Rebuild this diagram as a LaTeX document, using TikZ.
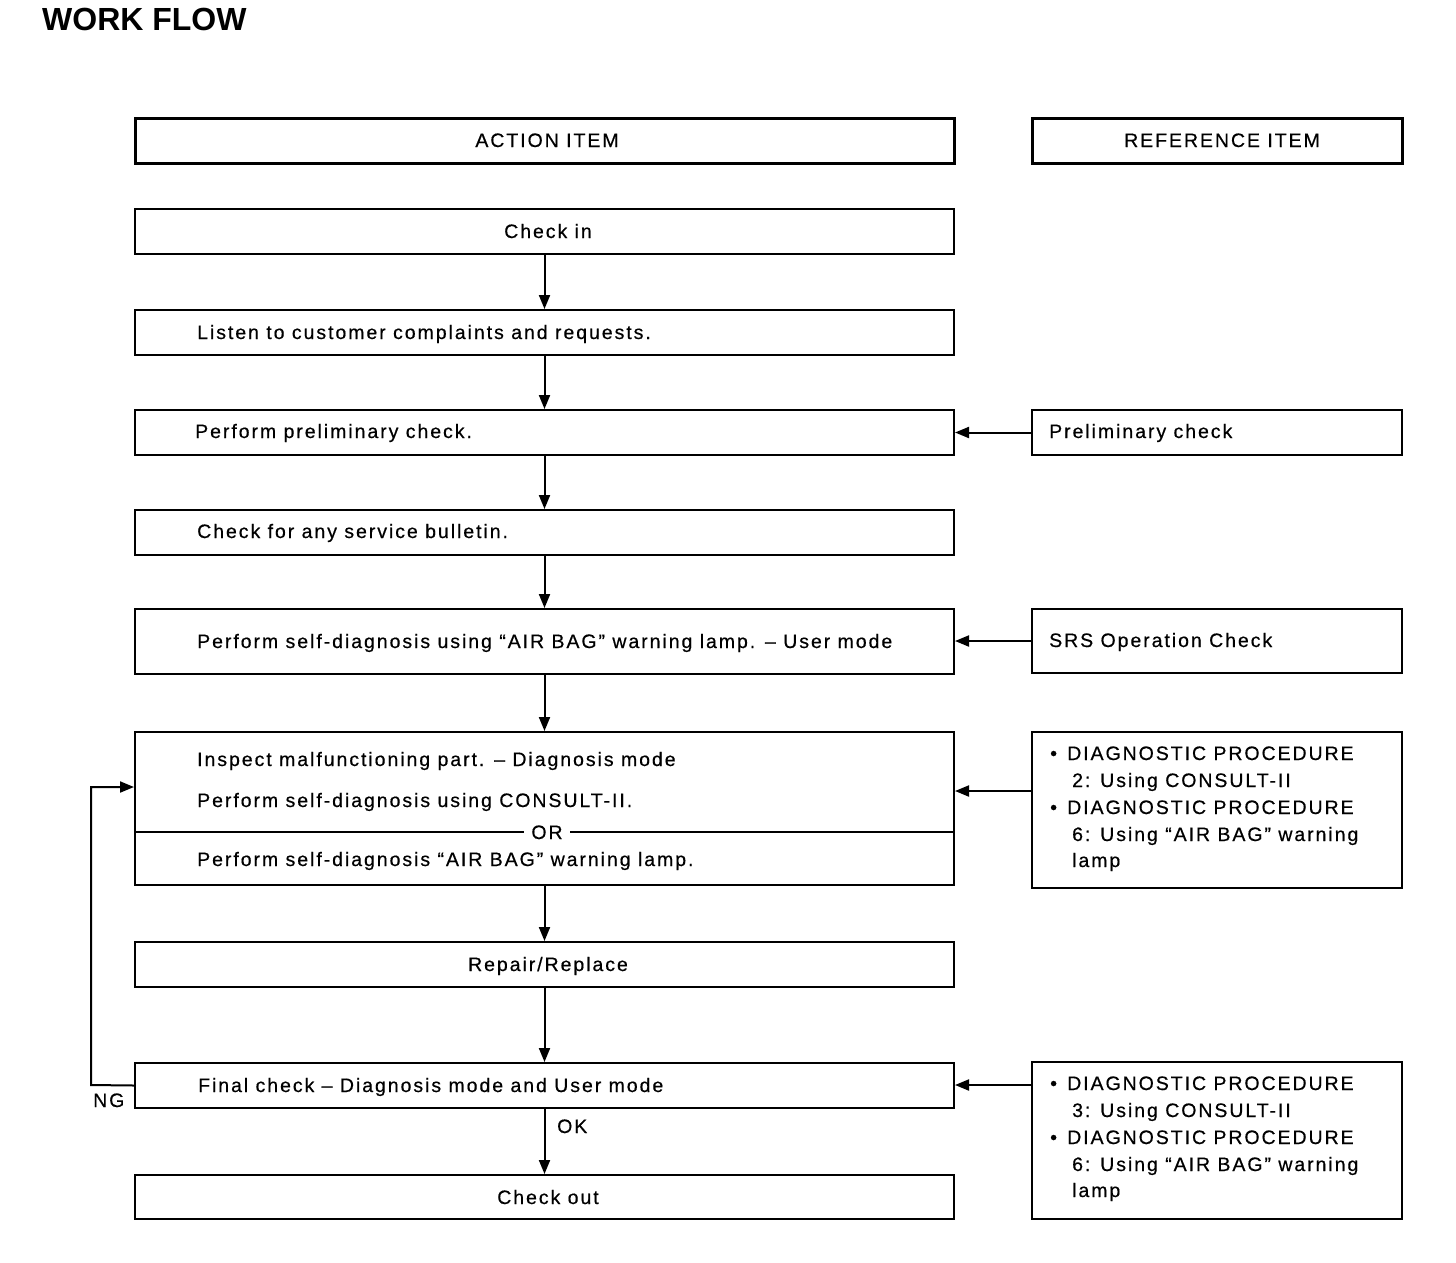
\documentclass[tikz,border=0pt]{standalone}
\usepackage{fontspec}
\setmainfont{Liberation Sans}[LetterSpace=10,FakeBold=0.5]
\newfontfamily\titlefont{Liberation Sans}
\usetikzlibrary{arrows.meta}
\begin{document}
\begin{tikzpicture}[x=1pt,y=-1pt,
  font=\fontsize{19.5}{23}\selectfont,
  box/.style={draw, line width=2pt, anchor=north west, inner sep=0pt, minimum width=819pt, minimum height=45pt},
  hbox/.style={box, line width=3pt},
  rbox/.style={box, minimum width=370pt},
  txt/.style={anchor=base west, inner sep=0pt},
  ctxt/.style={anchor=base, inner sep=0pt},
  arr/.style={line width=2pt, -{Triangle[length=14pt,width=11pt]}},
  ln/.style={line width=2pt}]
\useasboundingbox (0,0) rectangle (1456,1262);
\node[txt, font=\titlefont\fontsize{32}{36}\selectfont\bfseries] (title) at (42,30) {WORK FLOW};
% headers
\node[hbox] (act) at (134,117) {};
\node[hbox, minimum width=370pt] (ref) at (1031,117) {};
\node[ctxt] (actt) at (547,147) {ACTION ITEM};
\node[ctxt] (reft) at (1222,147) {REFERENCE ITEM};
% action boxes
\node[box] (b1) at (134,208) {};
\node[box] (b2) at (134,309) {};
\node[box] (b3) at (134,409) {};
\node[box] (b4) at (134,509) {};
\node[box, minimum height=65pt] (b5) at (134,608) {};
\node[box, minimum height=153pt] (b6) at (134,731) {};
\node[box] (b7) at (134,941) {};
\node[box] (b8) at (134,1062) {};
\node[box, minimum height=44pt] (b9) at (134,1174) {};
% reference boxes
\node[rbox] (r1) at (1031,409) {};
\node[rbox, minimum height=64pt] (r2) at (1031,608) {};
\node[rbox, minimum height=156pt] (r3) at (1031,731) {};
\node[rbox, minimum height=157pt] (r4) at (1031,1061) {};
% texts
\node[ctxt] (t1) at (548,238) {Check in};
\node[txt] (t2) at (197,339) {Listen to customer complaints and requests.};
\node[txt] (t3) at (195,438) {Perform preliminary check.};
\node[txt] (t4) at (197,538) {Check for any service bulletin.};
\node[txt] (t5) at (197,648) {Perform self-diagnosis using “AIR BAG” warning lamp. – User mode};
\node[txt] (t6a) at (197,766) {Inspect malfunctioning part. – Diagnosis mode};
\node[txt] (t6b) at (197,807) {Perform self-diagnosis using CONSULT-II.};
\node[txt] (t6c) at (197,866) {Perform self-diagnosis “AIR BAG” warning lamp.};
\coordinate (y832) at (0,832);
\draw[ln] (b6.west |- y832) -- (b6.east |- y832);
\node[ctxt, fill=white, inner xsep=7pt, inner ysep=3pt] (or) at (547,839) {OR};
\node[ctxt] (t7) at (548,971) {Repair/Replace};
\node[txt] (t8) at (198,1092) {Final check – Diagnosis mode and User mode};
\node[ctxt] (t9) at (548,1204) {Check out};
\node[txt] (ng) at (93,1107) {NG};
\node[txt] (ok) at (557,1133) {OK};
% reference texts
\node[txt] (rt1) at (1049,438) {Preliminary check};
\node[txt] (rt2) at (1049,647) {SRS Operation Check};
\node[txt] (r3b1) at (1050,760) {•};
\node[txt] (r3l1) at (1067,760) {DIAGNOSTIC PROCEDURE};
\node[txt] (r3l2) at (1072,787) {2: Using CONSULT-II};
\node[txt] (r3b2) at (1050,814) {•};
\node[txt] (r3l3) at (1067,814) {DIAGNOSTIC PROCEDURE};
\node[txt] (r3l4) at (1072,841) {6: Using “AIR BAG” warning};
\node[txt] (r3l5) at (1072,867) {lamp};
\node[txt] (r4b1) at (1050,1090) {•};
\node[txt] (r4l1) at (1067,1090) {DIAGNOSTIC PROCEDURE};
\node[txt] (r4l2) at (1072,1117) {3: Using CONSULT-II};
\node[txt] (r4b2) at (1050,1144) {•};
\node[txt] (r4l3) at (1067,1144) {DIAGNOSTIC PROCEDURE};
\node[txt] (r4l4) at (1072,1171) {6: Using “AIR BAG” warning};
\node[txt] (r4l5) at (1072,1197) {lamp};
% vertical arrows
\draw[arr] (b1.south) -- (b2.north);
\draw[arr] (b2.south) -- (b3.north);
\draw[arr] (b3.south) -- (b4.north);
\draw[arr] (b4.south) -- (b5.north);
\draw[arr] (b5.south) -- (b6.north);
\draw[arr] (b6.south) -- (b7.north);
\draw[arr] (b7.south) -- (b8.north);
\draw[arr] (b8.south) -- (b9.north);
% horizontal arrows
\coordinate (y791) at (0,791);
\coordinate (y1085) at (0,1085);
\coordinate (y787) at (0,787);
\draw[arr] (r1.west) -- (b3.east);
\draw[arr] (r2.west) -- (b5.east |- r2.west);
\draw[arr] (r3.west |- y791) -- (b6.east |- y791);
\draw[arr] (r4.west |- y1085) -- (b8.east |- y1085);
% NG loop
\coordinate (ngc) at (91,1085);
\draw[arr] (b8.west) -- (ngc) |- (b6.west |- y787);
\end{tikzpicture}
\end{document}
